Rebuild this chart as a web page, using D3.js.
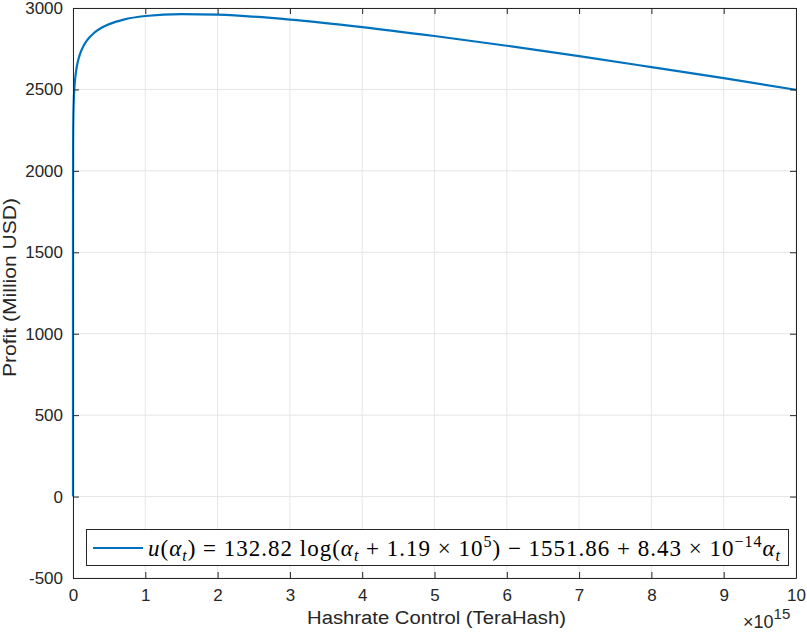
<!DOCTYPE html>
<html>
<head>
<meta charset="utf-8">
<script src="https://cdn.jsdelivr.net/npm/d3@7"></script>
<style>
  body { margin: 0; background: #fff; }
  text { font-family: "Liberation Sans", Arial, sans-serif; }
</style>
</head>
<body>
<div id="chart"></div>
<script>
// hashrate (x 1e15 TeraHash) and profit (Million USD)
const hashrate = [0, 0.000001, 0.0001, 0.001, 0.002, 0.005, 0.01, 0.02, 0.03, 0.05, 0.07, 0.1, 0.15, 0.2, 0.3, 0.4, 0.5, 0.7, 1, 1.5, 2, 3, 4, 5, 6, 7, 8, 9, 10];
const profit = [0, 1201, 1812, 2118, 2210, 2332, 2423, 2514, 2567, 2634, 2676, 2721, 2771, 2805, 2850, 2880, 2901, 2929, 2951, 2963, 2959, 2929, 2883, 2828, 2768, 2704, 2637, 2569, 2498];
const xTicks = [0, 1, 2, 3, 4, 5, 6, 7, 8, 9, 10];
const yTicks = [-500, 0, 500, 1000, 1500, 2000, 2500, 3000];

const width = 807, height = 633;
const margin = { top: 8, right: 11, bottom: 55, left: 73 };

const svg = d3.select("#chart").append("svg")
  .attr("width", width)
  .attr("height", height);

const x = d3.scaleLinear().domain([0, 10]).range([margin.left, width - margin.right]);
const y = d3.scaleLinear().domain([-500, 3000]).range([height - margin.bottom, margin.top]);

// grid
const grid = svg.append("g");
grid.selectAll(".gx").data(xTicks).join("line")
  .attr("x1", d => x(d)).attr("x2", d => x(d))
  .attr("y1", y(-500)).attr("y2", y(3000))
  .attr("stroke", "#e6e6e6").attr("stroke-width", 1);
grid.selectAll(".gy").data(yTicks).join("line")
  .attr("x1", x(0)).attr("x2", x(10))
  .attr("y1", d => y(d)).attr("y2", d => y(d))
  .attr("stroke", "#e6e6e6").attr("stroke-width", 1);

// curve
const line = d3.line()
  .x((d, i) => x(hashrate[i]))
  .y(d => y(d))
  .curve(d3.curveMonotoneX);

svg.append("path")
  .datum(profit)
  .attr("d", line)
  .attr("fill", "none")
  .attr("stroke", "#0072bd")
  .attr("stroke-width", 2.2);

// axes (ticks inward, box)
const fmt = d => String(d);
const xAxis = d3.axisBottom(x).tickValues(xTicks).tickFormat(fmt).tickSizeInner(-6).tickSizeOuter(0).tickPadding(11);
const yAxis = d3.axisLeft(y).tickValues(yTicks).tickFormat(fmt).tickSizeInner(-6).tickSizeOuter(0).tickPadding(10);

const gx = svg.append("g").attr("transform", `translate(0,${y(-500)})`).call(xAxis);
const gy = svg.append("g").attr("transform", `translate(${x(0)},0)`).call(yAxis);
const gxTop = svg.append("g").attr("transform", `translate(0,${y(3000)})`)
  .call(d3.axisTop(x).tickValues(xTicks).tickSizeInner(-6).tickSizeOuter(0).tickFormat(""));
const gyRight = svg.append("g").attr("transform", `translate(${x(10)},0)`)
  .call(d3.axisRight(y).tickValues(yTicks).tickSizeInner(-6).tickSizeOuter(0).tickFormat(""));

[gx, gy, gxTop, gyRight].forEach(g => {
  g.select(".domain").attr("stroke", "#262626").attr("stroke-width", 1);
  g.selectAll(".tick line").attr("stroke", "#262626");
  g.selectAll(".tick text").attr("fill", "#262626").style("font-size", "17px")
    .style("font-family", "'Liberation Sans', Arial, sans-serif");
});

// axis labels
svg.append("text")
  .attr("x", 307).attr("y", 624)
  .attr("textLength", 259).attr("lengthAdjust", "spacingAndGlyphs")
  .attr("fill", "#262626").style("font-size", "18px")
  .text("Hashrate Control (TeraHash)");

svg.append("text")
  .attr("transform", `translate(16,377) rotate(-90)`)
  .attr("textLength", 179).attr("lengthAdjust", "spacingAndGlyphs")
  .attr("fill", "#262626").style("font-size", "18px")
  .text("Profit (Million USD)");

// exponent
const ex = svg.append("text")
  .attr("x", 743).attr("y", 628)
  .attr("fill", "#262626").style("font-size", "18px");
ex.append("tspan").text("\u00d710");
ex.append("tspan").attr("dy", -9).style("font-size", "15px").text("15");

// legend
const lg = svg.append("g");
lg.append("rect")
  .attr("x", 86.5).attr("y", 529.5).attr("width", 702).attr("height", 36)
  .attr("fill", "#fff").attr("stroke", "#262626").attr("stroke-width", 1);
lg.append("line")
  .attr("x1", 93).attr("x2", 143).attr("y1", 548).attr("y2", 548)
  .attr("stroke", "#0072bd").attr("stroke-width", 2.2);

const serif = "'Liberation Serif', 'Times New Roman', serif";
const lt = lg.append("text")
  .attr("x", 148).attr("y", 556)
  .attr("fill", "#000")
  .style("font-family", serif).style("font-size", "23px");
const parts = [
  { t: "u", i: true }, { t: "(" }, { t: "\u03b1", i: true }, { t: "t", i: true, sub: true },
  { t: ") = 132.82 log(" }, { t: "\u03b1", i: true }, { t: "t", i: true, sub: true },
  { t: " + 1.19 \u00d7 10" }, { t: "5", sup: true }, { t: ") \u2212 1551.86 + 8.43 \u00d7 10" },
  { t: "\u221214", sup: true }, { t: "\u03b1", i: true }, { t: "t", i: true, sub: true }
];
let shift = 0;
parts.forEach(p => {
  const ts = lt.append("tspan").text(p.t);
  if (p.i) ts.style("font-style", "italic");
  let target = p.sub ? 5 : p.sup ? -9 : 0;
  if (target !== shift) { ts.attr("dy", target - shift); shift = target; }
  if (p.sub || p.sup) ts.style("font-size", "16px");
});
// stretch spacing to span the legend like the reference
lt.attr("textLength", 632).attr("lengthAdjust", "spacing");
</script>
</body>
</html>
